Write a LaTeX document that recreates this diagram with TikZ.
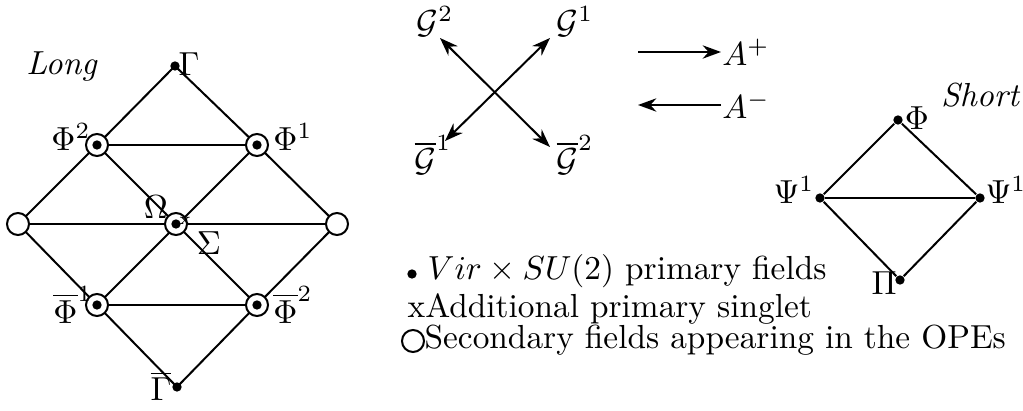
\documentclass[tikz,border=0pt]{standalone}
\usetikzlibrary{arrows.meta}
\begin{document}
\begin{tikzpicture}[x=0.3pt,y=-0.3pt,
  edge/.style={line width=0.6pt},
  ring/.style={circle,draw,line width=0.6pt,fill=white,minimum size=6.6pt,inner sep=0pt},
  dotn/.style={circle,fill=black,minimum size=2.8pt,inner sep=0pt},
  lbl/.style={inner sep=0pt},
  arr/.style={line width=0.6pt,{Stealth[length=5.5pt,width=4pt]}-{Stealth[length=5.5pt,width=4pt]}},
  sarr/.style={line width=0.6pt,-{Stealth[length=5.5pt,width=4pt]}}]
\useasboundingbox (0,0) rectangle (1023,411);
% ---------- Long multiplet ----------
\coordinate (g)  at (175,66);
\coordinate (p2) at (97,145);
\coordinate (p1) at (257,145);
\coordinate (l)  at (18,224);
\coordinate (c)  at (176,224);
\coordinate (r)  at (337,224);
\coordinate (q1) at (97,305);
\coordinate (q2) at (257,305);
\coordinate (gb) at (177,387);
\draw[edge] (g) -- (p2) -- (l) -- (q1) -- (gb) -- (q2) -- (r) -- (p1) -- (g);
\draw[edge] (p2) -- (q2);
\draw[edge] (p1) -- (q1);
\draw[edge] (p2) -- (p1);
\draw[edge] (l) -- (r);
\draw[edge] (q1) -- (q2);
\node[ring] (P2) at (p2) {};
\node[ring] (P1) at (p1) {};
\node[ring] (Q1) at (q1) {};
\node[ring] (Q2) at (q2) {};
\node[ring] (L) at (l) {};
\node[ring] (R) at (r) {};
\node[ring] (C) at (c) {};
\foreach \n in {P2,P1,Q1,Q2,C} \node[dotn] at (\n) {};
\node[dotn] (G) at (g) {};
\node[dotn] (GB) at (gb) {};
\node[lbl,font=\tiny] (X) at (185,221) {x};
\node[lbl] (longl) at (62,67) {\textit{Long}};
\node[lbl] (gl) at (189,64) {$\Gamma$};
\node[lbl] (p2l) at (71,137) {$\Phi^2$};
\node[lbl] (p1l) at (293,137) {$\Phi^1$};
\node[lbl] (oml) at (156,207) {$\Omega$};
\node[lbl] (sgl) at (209,243) {$\Sigma$};
\node[lbl] (q1l) at (73,305) {$\overline{\Phi}^1$};
\node[lbl] (q2l) at (293,305) {$\overline{\Phi}^2$};
\node[lbl] (gbl) at (161,386) {$\overline{\Gamma}$};
% ---------- crossing arrows ----------
\node[lbl] (G2) at (435,22) {$\mathcal{G}^2$};
\node[lbl] (G1) at (575,22) {$\mathcal{G}^1$};
\node[lbl] (GB1) at (433,155) {$\overline{\mathcal{G}}^1$};
\node[lbl] (GB2) at (575,155) {$\overline{\mathcal{G}}^2$};
\coordinate (a2) at (440,38);
\coordinate (a1) at (550,38);
\coordinate (b1) at (445,141);
\coordinate (b2) at (550,147);
\draw[arr] (b1) -- (a1);
\draw[arr] (a2) -- (b2);
% ---------- A+ / A- ----------
\coordinate (ap1) at (638,52);
\coordinate (ap2) at (721,52);
\coordinate (am1) at (721,105);
\coordinate (am2) at (638,105);
\draw[sarr] (ap1) -- (ap2);
\draw[sarr] (am1) -- (am2);
\node[lbl] (Ap) at (746,52) {$A^{+}$};
\node[lbl] (Am) at (746,105) {$A^{-}$};
% ---------- Short multiplet ----------
\node[lbl,anchor=east] (shortl) at (1021,95) {\textit{Short}};
\node[dotn] (S) at (898,120) {};
\node[dotn] (SL) at (820,198) {};
\node[dotn] (SR) at (980,198) {};
\node[dotn] (SB) at (900,280) {};
\draw[edge] (S) -- (SL) -- (SB) -- (SR) -- (S);
\draw[edge] (SL) -- (SR);
\node[lbl] (sl) at (917,118) {$\Phi$};
\node[lbl] (sll) at (794,190) {$\Psi^1$};
\node[lbl] (srl) at (1006,190) {$\Psi^1$};
\node[lbl] (sbl) at (884,283) {$\Pi$};
% ---------- legend ----------
\node[dotn] (ldot) at (412,274) {};
\node[lbl,anchor=base west] (leg1) at (427,280) {$Vir\times SU(2)$ primary fields};
\node[lbl,anchor=base west] (leg2) at (407,318) {xAdditional primary singlet};
\node[ring] (lo) at (413,341) {};
\node[lbl,anchor=base west] (leg3) at (424,349) {Secondary fields appearing in the OPEs};
\end{tikzpicture}
\end{document}
